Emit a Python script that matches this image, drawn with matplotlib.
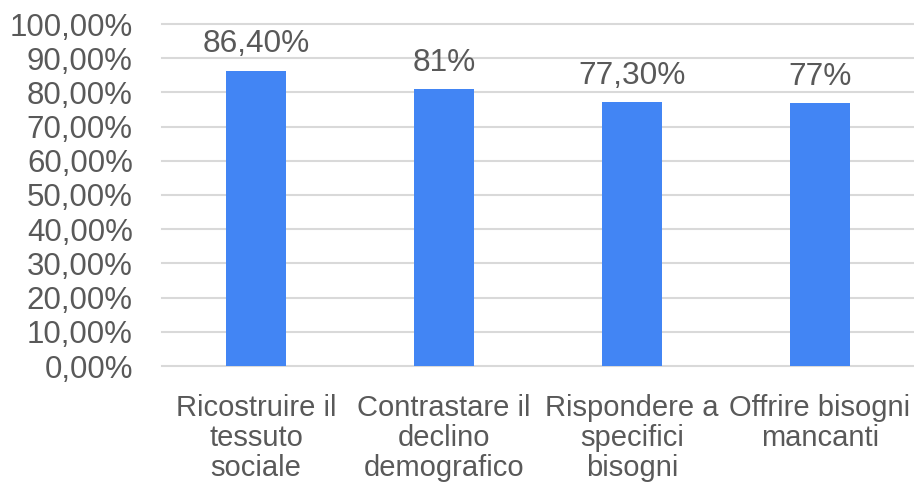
import matplotlib
matplotlib.use("Agg")
import matplotlib.pyplot as plt
from matplotlib.ticker import FuncFormatter

categories = ["Ricostruire il\ntessuto\nsociale", "Contrastare il\ndeclino\ndemografico",
              "Rispondere a\nspecifici\nbisogni", "Offrire bisogni\nmancanti"]
values = [86.4, 81.0, 77.3, 77.0]
value_labels = ["86,40%", "81%", "77,30%", "77%"]
yticks = list(range(0, 101, 10))

plt.rcParams['font.family'] = ['Liberation Sans', 'DejaVu Sans']
text_color = "#595959"

fig = plt.figure(figsize=(9.14, 4.83), dpi=100)
ax = fig.add_axes([162/914, 1 - 366/483, (914-162)/914, (366-24)/483])

x = list(range(len(categories)))
bars = ax.bar(x, values, width=0.32, color="#4285F4", zorder=3)
for xi, v, lab in zip(x, values, value_labels):
    ax.annotate(lab, (xi, v), xytext=(0, 8), textcoords="offset points",
                ha="center", va="bottom", fontsize=22.8, color=text_color)

ax.set_xlim(-0.5, len(categories) - 0.5)
ax.set_ylim(0, 100)
ax.set_yticks(yticks)
ax.yaxis.set_major_formatter(FuncFormatter(lambda v, p: f"{v:.2f}".replace(".", ",") + "%"))
ax.set_xticks(x)
ax.set_xticklabels(categories, linespacing=1.08)
ax.tick_params(axis="y", length=0, pad=21, labelsize=22.5, labelcolor=text_color)
ax.tick_params(axis="x", length=0, pad=20.5, labelsize=21, labelcolor=text_color)
ax.grid(axis="y", color="#d9d9d9", linewidth=1.5, zorder=0)
for s in ax.spines.values():
    s.set_visible(False)
for gl in ax.get_ygridlines():
    gl.set_clip_on(False)

fig.savefig("out.png", dpi=100)
